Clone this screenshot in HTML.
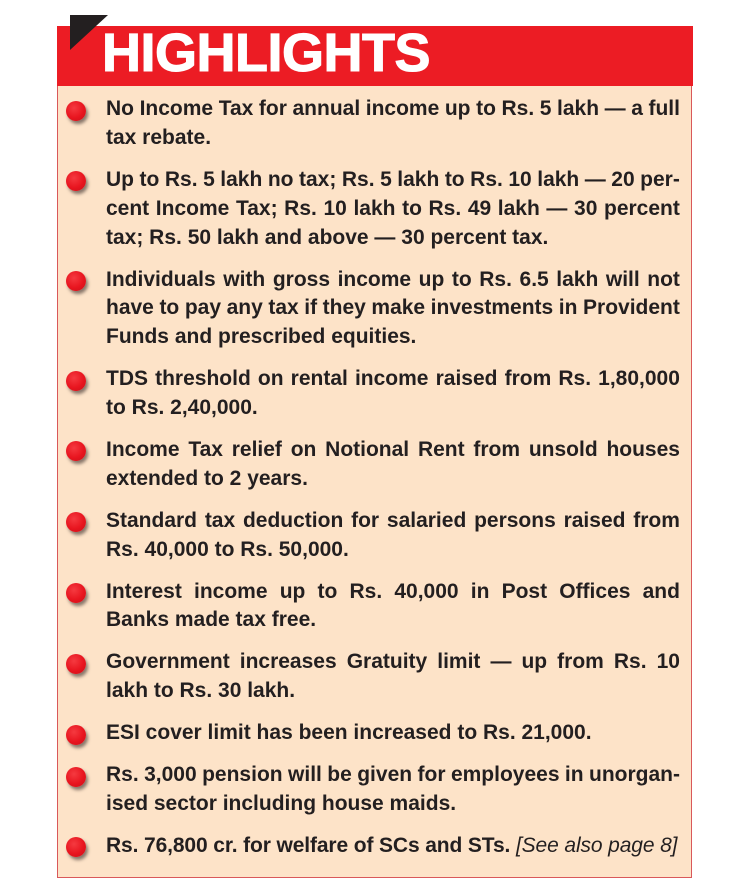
<!DOCTYPE html>
<html>
<head>
<meta charset="utf-8">
<style>
  html, body { margin:0; padding:0; }
  body { width:750px; height:894px; background:#ffffff; position:relative; overflow:hidden;
         font-family:"Liberation Sans", Arial, sans-serif; }
  .box { position:absolute; left:57px; top:26px; width:633px; height:850px;
         background:#fde3c8; border:1.5px solid #d9585a; }
  .hdr { position:absolute; left:57px; top:26px; width:636px; height:60px; background:#ec1c24; }
  .title { position:absolute; left:102px; top:26px; line-height:54px; font-size:54px; font-weight:bold;
           color:#ffffff; letter-spacing:-0.5px; white-space:nowrap; -webkit-text-stroke:1.1px #ffffff; }
  .tri { position:absolute; left:0; top:0; }
  .ln { position:absolute; left:106px; width:574px; height:29px; line-height:29px; font-size:21px;
        font-weight:bold; color:#231f20; white-space:nowrap; }
  .j { display:flex; justify-content:space-between; }
  .b { position:absolute; left:66px; width:20px; height:20px; border-radius:50%;
       background:radial-gradient(circle at 40% 35%, #f53a40 0%, #e8151f 55%, #c8101a 100%);
       box-shadow:2px 3px 3px rgba(40,30,30,0.55); }
  .it { font-weight:normal; font-style:italic; }
</style>
</head>
<body>
<div class="box"></div>
<div class="hdr"></div>
<svg class="tri" width="750" height="60" viewBox="0 0 750 60"><polygon points="70,15 108,15 70,50" fill="#231f20"/></svg>
<div class="title">HIGHLIGHTS</div>

<!-- bullets -->
<div class="b" style="top:100.5px"></div>
<div class="b" style="top:171.3px"></div>
<div class="b" style="top:270.9px"></div>
<div class="b" style="top:370.5px"></div>
<div class="b" style="top:441.3px"></div>
<div class="b" style="top:512.1px"></div>
<div class="b" style="top:582.9px"></div>
<div class="b" style="top:653.7px"></div>
<div class="b" style="top:724.5px"></div>
<div class="b" style="top:766.5px"></div>
<div class="b" style="top:837.3px"></div>

<!-- P1 -->
<div class="ln j" style="top:94.2px"><span>No</span><span>Income</span><span>Tax</span><span>for</span><span>annual</span><span>income</span><span>up</span><span>to</span><span>Rs.</span><span>5</span><span>lakh</span><span>—</span><span>a</span><span>full</span></div>
<div class="ln" style="top:123px">tax rebate.</div>

<!-- P2 -->
<div class="ln j" style="top:165px"><span>Up</span><span>to</span><span>Rs.</span><span>5</span><span>lakh</span><span>no</span><span>tax;</span><span>Rs.</span><span>5</span><span>lakh</span><span>to</span><span>Rs.</span><span>10</span><span>lakh</span><span>—</span><span>20</span><span>per-</span></div>
<div class="ln j" style="top:193.8px"><span>cent</span><span>Income</span><span>Tax;</span><span>Rs.</span><span>10</span><span>lakh</span><span>to</span><span>Rs.</span><span>49</span><span>lakh</span><span>—</span><span>30</span><span>percent</span></div>
<div class="ln" style="top:222.6px">tax; Rs. 50 lakh and above — 30 percent tax.</div>

<!-- P3 -->
<div class="ln j" style="top:264.6px"><span>Individuals</span><span>with</span><span>gross</span><span>income</span><span>up</span><span>to</span><span>Rs.</span><span>6.5</span><span>lakh</span><span>will</span><span>not</span></div>
<div class="ln j" style="top:293.4px"><span>have</span><span>to</span><span>pay</span><span>any</span><span>tax</span><span>if</span><span>they</span><span>make</span><span>investments</span><span>in</span><span>Provident</span></div>
<div class="ln" style="top:322.2px">Funds and prescribed equities.</div>

<!-- P4 -->
<div class="ln j" style="top:364.2px"><span>TDS</span><span>threshold</span><span>on</span><span>rental</span><span>income</span><span>raised</span><span>from</span><span>Rs.</span><span>1,80,000</span></div>
<div class="ln" style="top:393px">to Rs. 2,40,000.</div>

<!-- P5 -->
<div class="ln j" style="top:435px"><span>Income</span><span>Tax</span><span>relief</span><span>on</span><span>Notional</span><span>Rent</span><span>from</span><span>unsold</span><span>houses</span></div>
<div class="ln" style="top:463.8px">extended to 2 years.</div>

<!-- P6 -->
<div class="ln j" style="top:505.8px"><span>Standard</span><span>tax</span><span>deduction</span><span>for</span><span>salaried</span><span>persons</span><span>raised</span><span>from</span></div>
<div class="ln" style="top:534.6px">Rs. 40,000 to Rs. 50,000.</div>

<!-- P7 -->
<div class="ln j" style="top:576.6px"><span>Interest</span><span>income</span><span>up</span><span>to</span><span>Rs.</span><span>40,000</span><span>in</span><span>Post</span><span>Offices</span><span>and</span></div>
<div class="ln" style="top:605.4px">Banks made tax free.</div>

<!-- P8 -->
<div class="ln j" style="top:647.4px"><span>Government</span><span>increases</span><span>Gratuity</span><span>limit</span><span>—</span><span>up</span><span>from</span><span>Rs.</span><span>10</span></div>
<div class="ln" style="top:676.2px">lakh to Rs. 30 lakh.</div>

<!-- P9 -->
<div class="ln" style="top:718.2px">ESI cover limit has been increased to Rs. 21,000.</div>

<!-- P10 -->
<div class="ln j" style="top:760.2px"><span>Rs.</span><span>3,000</span><span>pension</span><span>will</span><span>be</span><span>given</span><span>for</span><span>employees</span><span>in</span><span>unorgan-</span></div>
<div class="ln" style="top:789px">ised sector including house maids.</div>

<!-- P11 -->
<div class="ln" style="top:831px; letter-spacing:-0.12px">Rs. 76,800 cr. for welfare of SCs and STs. <span class="it">[See also page 8]</span></div>
</body>
</html>
